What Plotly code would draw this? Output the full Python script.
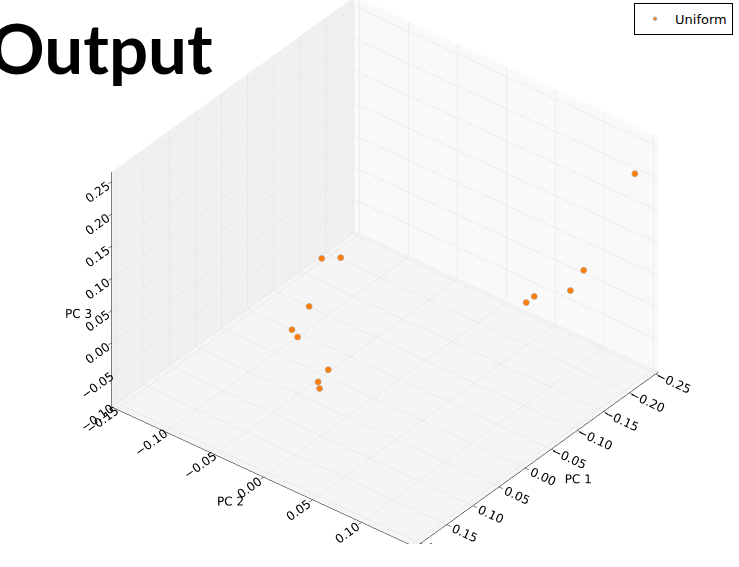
import plotly.graph_objects as go

# PCA coordinates of the "Uniform" samples
pc1 = [0.0419, 0.0264, 0.0559, 0.0751, 0.0619, 0.0503, 0.0568, 0.0350,
       -0.1438, -0.1492, -0.1753, -0.1868, -0.2354]
pc2 = [-0.0303, -0.0192, -0.0357, -0.0430, -0.0443, -0.0191, -0.0261, -0.0362,
       0.0794, 0.0847, 0.1077, 0.1151, 0.1414]
pc3 = [0.12, 0.12, 0.05, 0.02, 0.00, -0.04, -0.06, -0.09,
       0.02, 0.03, 0.04, 0.07, 0.21]

x_ticks = [-0.25, -0.20, -0.15, -0.10, -0.05, 0.00, 0.05, 0.10, 0.15, 0.20]
y_ticks = [-0.15, -0.10, -0.05, 0.00, 0.05, 0.10, 0.15]
z_ticks = [-0.10, -0.05, 0.00, 0.05, 0.10, 0.15, 0.20, 0.25]
x_range = [-0.255, 0.21]
y_range = [-0.155, 0.155]
z_range = [-0.10, 0.265]

FONT = "DejaVu Sans"

fig = go.Figure()
fig.add_trace(go.Scatter3d(
    x=pc1, y=pc2, z=pc3, mode="markers", name="Uniform",
    marker=dict(size=3.6, color="#ff7f0e",
                line=dict(color="rgb(170,170,170)", width=1)),
    showlegend=True,
))


def axis(title, ticks, rng, bg):
    return dict(
        title=dict(text=title, font=dict(family=FONT, size=12, color="black")),
        range=rng, tickvals=ticks, tickformat=".2f",
        tickfont=dict(family=FONT, size=12, color="black"),
        showbackground=True, backgroundcolor=bg,
        gridcolor="rgb(224,224,224)", gridwidth=1,
        showline=True, linecolor="black", linewidth=1,
        ticks="outside", tickcolor="black", ticklen=5,
        zeroline=False, showspikes=False, autorange=False,
    )


S = 1.43
fig.update_layout(
    width=739, height=567,
    margin=dict(l=0, r=0, t=0, b=0),
    paper_bgcolor="white",
    font=dict(family=FONT, size=12, color="black"),
    scene=dict(
        xaxis=axis("PC 1", x_ticks, x_range, "rgb(249,249,249)"),
        yaxis=axis("PC 2", y_ticks, y_range, "rgb(240,240,240)"),
        zaxis=axis("PC 3", z_ticks, z_range, "rgb(245,245,245)"),
        aspectmode="manual",
        aspectratio=dict(x=S, y=S, z=0.74 * S),
        camera=dict(
            eye=dict(x=1.15, y=0.92, z=1.04),
            up=dict(x=0, y=0, z=1),
            center=dict(x=0, y=0, z=0),
            projection=dict(type="orthographic"),
        ),
        domain=dict(x=[0.042, 1], y=[0.04, 1]),
    ),
    legend=dict(
        x=0.992, y=0.995, xanchor="right", yanchor="top",
        bordercolor="black", borderwidth=1, bgcolor="white",
        font=dict(family=FONT, size=13, color="black"),
        itemsizing="trace",
    ),
    annotations=[dict(
        text="Output", xref="paper", yref="paper",
        x=-0.017, y=1 - 47 / 567, xanchor="left", yanchor="middle",
        showarrow=False,
        font=dict(family="Lato", size=69, color="black", weight=700),
    )],
)

fig.write_html("out.html")
